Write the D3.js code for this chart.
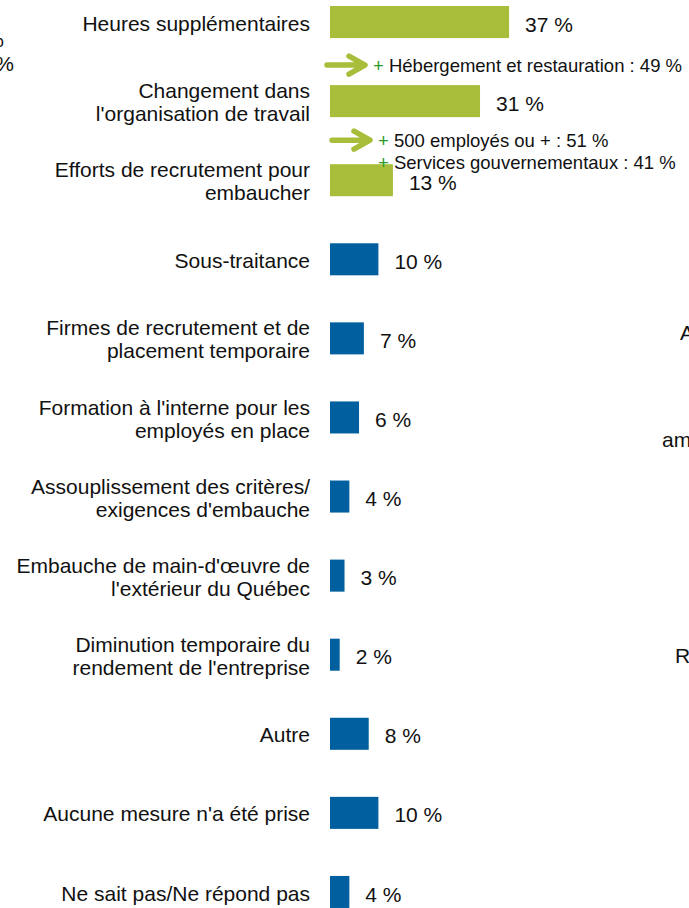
<!DOCTYPE html>
<html>
<head>
<meta charset="utf-8">
<script src="https://cdn.jsdelivr.net/npm/d3@7"></script>
<style>
  body { margin: 0; background: #fff; }
  svg { display: block; font-family: Arial, "Liberation Sans", sans-serif; }
</style>
</head>
<body>
<svg id="chart" width="689" height="908"></svg>
<script>
var categories = [
  "Heures supplémentaires",
  "Changement dans|l'organisation de travail",
  "Efforts de recrutement pour|embaucher",
  "Sous-traitance",
  "Firmes de recrutement et de|placement temporaire",
  "Formation à l'interne pour les|employés en place",
  "Assouplissement des critères/|exigences d'embauche",
  "Embauche de main-d'œuvre de|l'extérieur du Québec",
  "Diminution temporaire du|rendement de l'entreprise",
  "Autre",
  "Aucune mesure n'a été prise",
  "Ne sait pas/Ne répond pas"
];
var values = [37, 31, 13, 10, 7, 6, 4, 3, 2, 8, 10, 4];
var highlighted = [true, true, true, false, false, false, false, false, false, false, false, false];

// notes under a bar: index of the bar above, then lines
var noteAfter = [0, 1];
var noteLines = [
  ["Hébergement et restauration : 49 %"],
  ["500 employés ou + : 51 %", "Services gouvernementaux : 41 %"]
];

var green = "#a8bd3a", blue = "#005f9e";

var svg = d3.select("#chart");

var x = d3.scaleLinear().domain([0, 100]).range([330, 814]);
var y = d3.scaleBand()
    .domain(categories)
    .range([-17.5, 931.5])
    .paddingInner(0.595)
    .paddingOuter(0.2975);

// bars
svg.selectAll(".bar")
  .data(values)
  .enter().append("rect")
    .attr("class", "bar")
    .attr("x", x(0))
    .attr("y", function(d, i) { return y(categories[i]); })
    .attr("width", function(d) { return x(d) - x(0); })
    .attr("height", y.bandwidth())
    .attr("fill", function(d, i) { return highlighted[i] ? green : blue; });

// value labels
svg.selectAll(".val")
  .data(values)
  .enter().append("text")
    .attr("class", "val")
    .attr("x", function(d) { return x(d) + 16; })
    .attr("y", function(d, i) { return y(categories[i]) + y.bandwidth() / 2 + 2; })
    .attr("dy", "0.36em")
    .style("font-size", "21px")
    .attr("fill", "#111")
    .text(function(d) { return d + " %"; });

// category labels
var lab = svg.selectAll(".cat")
  .data(categories)
  .enter().append("text")
    .attr("class", "cat")
    .attr("text-anchor", "end")
    .style("font-size", "21px")
    .attr("fill", "#111");

lab.each(function(d) {
  var lines = d.split("|");
  var cy = y(d) + y.bandwidth() / 2 + 1;
  var t = d3.select(this);
  lines.forEach(function(l, k) {
    t.append("tspan")
      .attr("x", 310)
      .attr("y", cy + (k - (lines.length - 1) / 2) * 23)
      .attr("dy", "0.36em")
      .text(l);
  });
});

// notes with arrows
var noteGap = [27, 23];
var noteX = [327, 332];
noteAfter.forEach(function(bi, n) {
  var y0 = y(categories[bi]) + y.bandwidth() + noteGap[n];
  var ax = noteX[n];
  var g = svg.append("g");
  g.append("path")
    .attr("d", "M" + ax + "," + y0 + "H" + (ax + 36) +
               "M" + (ax + 22) + "," + (y0 - 9) + "L" + (ax + 38) + "," + y0 + "L" + (ax + 22) + "," + (y0 + 9))
    .attr("fill", "none")
    .attr("stroke", green)
    .attr("stroke-width", 5.5)
    .attr("stroke-linecap", "round")
    .attr("stroke-linejoin", "round");
  lines = noteLines[n];
  lines.forEach(function(l, k) {
    var t = g.append("text")
      .attr("x", ax + 46)
      .attr("y", y0 + k * 22)
      .attr("dy", "0.36em")
      .style("font-size", "18.5px")
      .attr("fill", "#111");
    t.append("tspan").attr("fill", "#2a9a2a").text("+ ");
    t.append("tspan").text(l);
  });
});

// fragments of neighbouring panels, cut by the frame
var edgeText = [
  {t: "%", x: 4, y: 47, a: "end"},
  {t: "%", x: 14, y: 71, a: "end"},
  {t: "A", x: 680, y: 340, a: "start"},
  {t: "am", x: 662, y: 447, a: "start"},
  {t: "R", x: 675, y: 663, a: "start"}
];
svg.selectAll(".edge")
  .data(edgeText)
  .enter().append("text")
    .attr("class", "edge")
    .attr("x", function(d) { return d.x; })
    .attr("y", function(d) { return d.y; })
    .attr("text-anchor", function(d) { return d.a; })
    .style("font-size", "21px")
    .attr("fill", "#111")
    .text(function(d) { return d.t; });
</script>
</body>
</html>
